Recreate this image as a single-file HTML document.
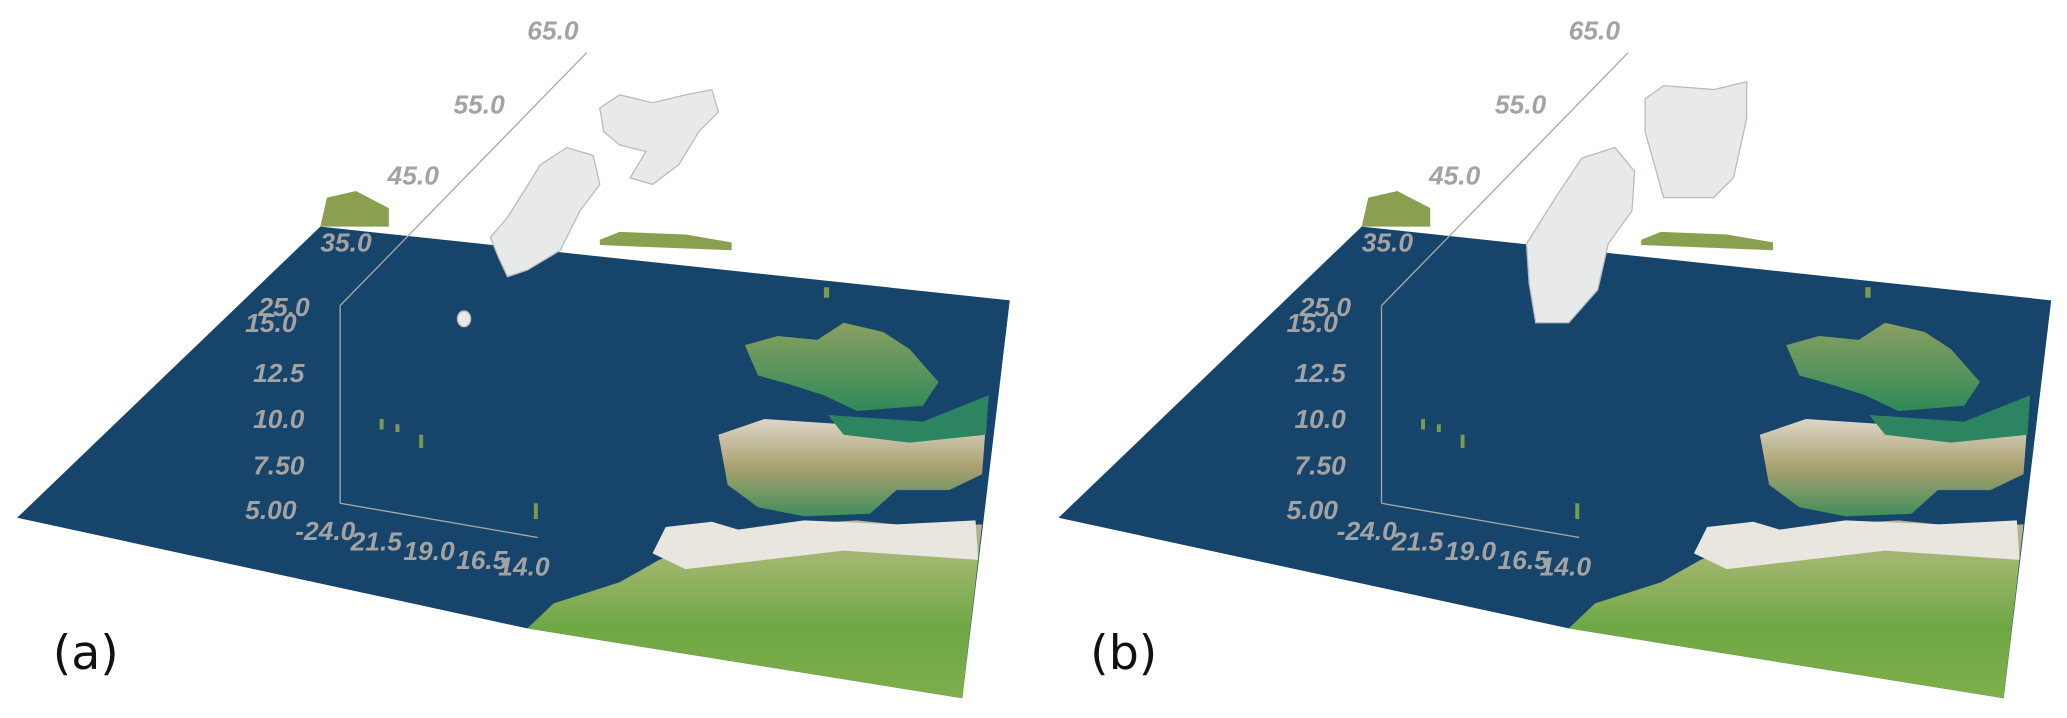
<!DOCTYPE html>
<html><head><meta charset="utf-8"><style>
html,body{margin:0;padding:0;background:#fff;width:2067px;height:718px;overflow:hidden}
svg{display:block}
.ax{font-family:"Liberation Sans",sans-serif;font-style:italic;font-weight:bold;font-size:20px;fill:#a3a3a3}
.lb{font-family:"DejaVu Sans","Liberation Sans",sans-serif;font-size:36px;fill:#111}
</style></head><body>
<svg width="2067" height="718" viewBox="0 0 1568 545" preserveAspectRatio="none">
<defs>
<linearGradient id="land" x1="0" y1="0" x2="0" y2="1">
<stop offset="0" stop-color="#b9b39a"/><stop offset="0.25" stop-color="#9db56a"/><stop offset="0.6" stop-color="#6ea844"/><stop offset="1" stop-color="#7eae4a"/></linearGradient>
<linearGradient id="fr" x1="0" y1="0" x2="0" y2="1">
<stop offset="0" stop-color="#dcd7c8"/><stop offset="0.5" stop-color="#a9a070"/><stop offset="1" stop-color="#3f8f5a"/></linearGradient>
<linearGradient id="uk" x1="0" y1="0" x2="0" y2="1">
<stop offset="0" stop-color="#8aa060"/><stop offset="1" stop-color="#2f8a58"/></linearGradient>
<g id="base">
<polygon points="243,172 766,228 730,530 400,477 13,393" fill="#16446a"/>
<polygon points="400,477 420,458 470,442 500,425 540,410 600,398 650,395 700,400 745,398 730,530" fill="url(#land)"/>
<path d="M495,420 L505,400 L540,396 L560,402 L610,395 L680,398 L740,395 L742,425 L700,422 L640,418 L580,425 L520,432 Z" fill="#e9e6df"/>
<path d="M545,330 L580,318 L640,322 L700,322 L748,320 L745,360 L720,372 L680,372 L660,390 L610,392 L575,385 L552,368 Z" fill="url(#fr)"/>
<path d="M565,262 L590,255 L620,258 L640,245 L670,252 L690,265 L712,290 L700,308 L650,312 L625,300 L600,292 L575,285 Z" fill="url(#uk)"/>
<path d="M628,315 L700,320 L750,300 L748,330 L690,336 L640,330 Z" fill="#2c8460"/>
<path d="M243,172 L248,150 L270,145 L295,158 L295,172 Z" fill="#8aa050"/>
<path d="M455,182 L470,176 L520,178 L555,184 L555,190 L455,186 Z" fill="#8aa050"/>
<g stroke="#a8a8a8" stroke-width="1" fill="none">
<line x1="258" y1="232" x2="445" y2="40"/>
<line x1="258" y1="232" x2="258" y2="382"/>
<line x1="258" y1="382" x2="408" y2="408"/>
</g>
<g fill="#7a9a50"><rect x="288" y="318" width="3" height="8"/><rect x="300" y="322" width="3" height="6"/><rect x="318" y="330" width="3" height="10"/><rect x="405" y="382" width="3" height="12"/><rect x="625" y="218" width="4" height="8"/></g>
<text class="ax" x="400" y="30">65.0</text>
<text class="ax" x="344" y="86">55.0</text>
<text class="ax" x="294" y="140">45.0</text>
<text class="ax" x="243" y="191">35.0</text>
<text class="ax" x="196" y="240">25.0</text>
<text class="ax" x="186" y="252">15.0</text>
<text class="ax" x="192" y="290">12.5</text>
<text class="ax" x="192" y="325">10.0</text>
<text class="ax" x="192" y="360">7.50</text>
<text class="ax" x="186" y="394">5.00</text>
<text class="ax" x="224" y="410">-24.0</text>
<text class="ax" x="266" y="418">21.5</text>
<text class="ax" x="306" y="425">19.0</text>
<text class="ax" x="346" y="432">16.5</text>
<text class="ax" x="378" y="437">14.0</text>
</g>
</defs>
<use href="#base"/>
<g fill="#e8eaea" stroke="#b8bcbc" stroke-width="1">
<path d="M372,180 L385,165 L410,125 L430,112 L450,118 L455,140 L440,160 L425,190 L400,205 L385,210 L378,195 Z"/>
<path d="M455,82 L470,72 L495,78 L520,72 L540,68 L545,85 L530,100 L515,125 L495,140 L478,135 L490,115 L470,110 L458,100 Z"/>
<ellipse cx="352" cy="242" rx="5" ry="6"/>
</g>
<g transform="translate(790,0)"><use href="#base"/></g>
<g fill="#e8eaea" stroke="#b8bcbc" stroke-width="1">
<path d="M1158,185 L1180,150 L1200,120 L1225,112 L1240,130 L1238,160 L1220,185 L1212,220 L1190,245 L1165,245 L1160,215 Z"/>
<path d="M1248,75 L1262,65 L1300,68 L1325,62 L1325,90 L1315,135 L1300,150 L1262,150 L1255,125 L1248,100 Z"/>
</g>
<text class="lb" x="40" y="508">(a)</text>
<text class="lb" x="827" y="508">(b)</text>
</svg>
</body></html>
